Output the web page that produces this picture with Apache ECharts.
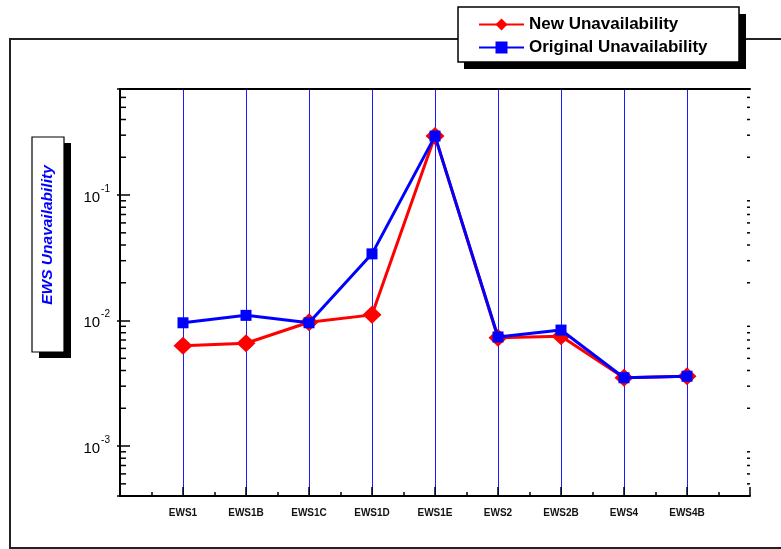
<!DOCTYPE html>
<html>
<head>
<meta charset="utf-8">
<script src="https://cdn.jsdelivr.net/npm/echarts@6/dist/echarts.min.js"></script>
<style>html,body{margin:0;padding:0;background:#fff}#c{width:781px;height:549px}</style>
</head>
<body>
<div id="c"></div>
<script>
var categories = ['EWS1','EWS1B','EWS1C','EWS1D','EWS1E','EWS2','EWS2B','EWS4','EWS4B'];
var newUnavailability = [0.0063, 0.0066, 0.0097, 0.0111, 0.295, 0.0073, 0.0075, 0.0035, 0.0036];
var originalUnavailability = [0.0096, 0.0110, 0.0096, 0.034, 0.295, 0.0074, 0.0084, 0.0035, 0.0036];
var yMin = 0.0004, yMax = 0.7;
var decades = [0.0001, 0.001, 0.01, 0.1];
var mantissas = [2,3,4,5,6,7,8,9];

var minorVals = [];
decades.forEach(function(d){ mantissas.forEach(function(m){ var v = +(m*d).toPrecision(3); if (v >= yMin && v <= yMax) minorVals.push([0, v]); }); });

var font = 'Liberation Sans, Arial, sans-serif';
var chart = echarts.init(document.getElementById('c'));

function yLabel(v){
  var e = Math.log10(v), r = Math.round(e);
  if (Math.abs(e - r) > 1e-6) return '';
  return '{b|10}{s|' + r + '}';
}
var gridBlue = '#1a1aff';

chart.setOption({
  animation: false,
  grid: {left: 120, right: 31, top: 89, bottom: 53, show: false},
  legend: {
    orient: 'vertical', left: 478, top: 16, padding: 0, itemGap: 6,
    itemWidth: 45, itemHeight: 15, z: 100,
    textStyle: {fontFamily: font, fontSize: 17, fontWeight: 'bold', color: '#000', lineHeight: 17},
    data: ['New Unavailability', 'Original Unavailability']
  },
  xAxis: [{
    type: 'value', min: 0, max: 10, interval: 1, position: 'bottom',
    axisLine: {show: true, lineStyle: {color: '#000', width: 2}},
    axisTick: {show: true, inside: true, length: 9, lineStyle: {color: '#000', width: 1.5}},
    minorTick: {show: true, splitNumber: 2, length: 4, lineStyle: {color: '#000', width: 1.5}},
    splitLine: {show: true, lineStyle: {color: ['transparent',gridBlue,gridBlue,gridBlue,gridBlue,gridBlue,gridBlue,gridBlue,gridBlue,gridBlue,'transparent'], width: 1}},
    axisLabel: {margin: 12, fontFamily: font, fontSize: 10, fontWeight: 'bold', color: '#111',
      formatter: function(v){ return categories[v-1] || ''; }}
  }, {
    type: 'value', min: 0, max: 10, position: 'top',
    axisLine: {show: true, lineStyle: {color: '#000', width: 2}},
    axisTick: {show: false}, axisLabel: {show: false}, splitLine: {show: false}
  }],
  yAxis: [{
    type: 'log', logBase: 10, min: yMin, max: yMax, position: 'left',
    axisLine: {show: true, lineStyle: {color: '#000', width: 2}},
    axisTick: {show: true, inside: true, length: 10, lineStyle: {color: '#000', width: 1.5}},
    splitLine: {show: false},
    axisLabel: {margin: 10, showMinLabel: false, showMaxLabel: false, formatter: yLabel,
      rich: {
        b: {fontFamily: font, fontSize: 15, color: '#000', padding: [5,0,0,0]},
        s: {fontFamily: font, fontSize: 10, color: '#000', padding: [0,0,12,1]}
      }}
  }, {
    type: 'log', logBase: 10, min: yMin, max: yMax, position: 'right',
    axisLine: {show: true, lineStyle: {color: '#000', width: 2}},
    axisTick: {show: true, inside: true, length: 3, lineStyle: {color: '#000', width: 1.5}},
    splitLine: {show: false}, axisLabel: {show: false}
  }],
  series: [{
    type: 'custom', silent: true, xAxisIndex: 0, yAxisIndex: 0, data: minorVals, z: 3,
    renderItem: function(params, api){
      var p1 = api.coord([0, api.value(1)]);
      var p2 = api.coord([10, api.value(1)]);
      return {type: 'group', children: [
        {type: 'line', shape: {x1: p1[0], y1: p1[1], x2: p1[0] + 6, y2: p1[1]}, style: {stroke: '#000', lineWidth: 1.5}},
        {type: 'line', shape: {x1: p2[0], y1: p2[1], x2: p2[0] - 3, y2: p2[1]}, style: {stroke: '#000', lineWidth: 1.5}}
      ]};
    }
  }, {
    name: 'New Unavailability', type: 'line', z: 4,
    data: categories.map(function(c, i){ return [i + 1, newUnavailability[i]]; }),
    symbol: 'diamond', symbolSize: [19, 18],
    lineStyle: {color: '#ff0000', width: 3}, itemStyle: {color: '#ff0000'}
  }, {
    name: 'Original Unavailability', type: 'line', z: 5,
    data: categories.map(function(c, i){ return [i + 1, originalUnavailability[i]]; }),
    symbol: 'rect', symbolSize: 11,
    lineStyle: {color: '#0000ff', width: 3}, itemStyle: {color: '#0000ff'}
  }],
  graphic: [
    {type: 'rect', z: 1, silent: true, shape: {x: 10, y: 39, width: 800, height: 509}, style: {fill: 'none', stroke: '#222', lineWidth: 2}},
    {type: 'rect', z: 50, silent: true, shape: {x: 464, y: 14, width: 282, height: 55}, style: {fill: '#000'}},
    {type: 'rect', z: 51, silent: true, shape: {x: 458, y: 7, width: 281, height: 55}, style: {fill: '#fff', stroke: '#000', lineWidth: 1.5}},
    {type: 'rect', z: 50, silent: true, shape: {x: 39, y: 143, width: 32, height: 215}, style: {fill: '#000'}},
    {type: 'rect', z: 51, silent: true, shape: {x: 32, y: 137, width: 32, height: 215}, style: {fill: '#fff', stroke: '#000', lineWidth: 1.2}},
    {type: 'text', z: 52, silent: true, x: 48, y: 235, rotation: Math.PI / 2,
      style: {text: 'EWS Unavailability', font: 'italic bold 15.5px Liberation Sans, Arial, sans-serif', fill: '#0000ff', align: 'center', verticalAlign: 'middle', textAlign: 'center', textVerticalAlign: 'middle'}}
  ]
});
</script>
</body>
</html>
